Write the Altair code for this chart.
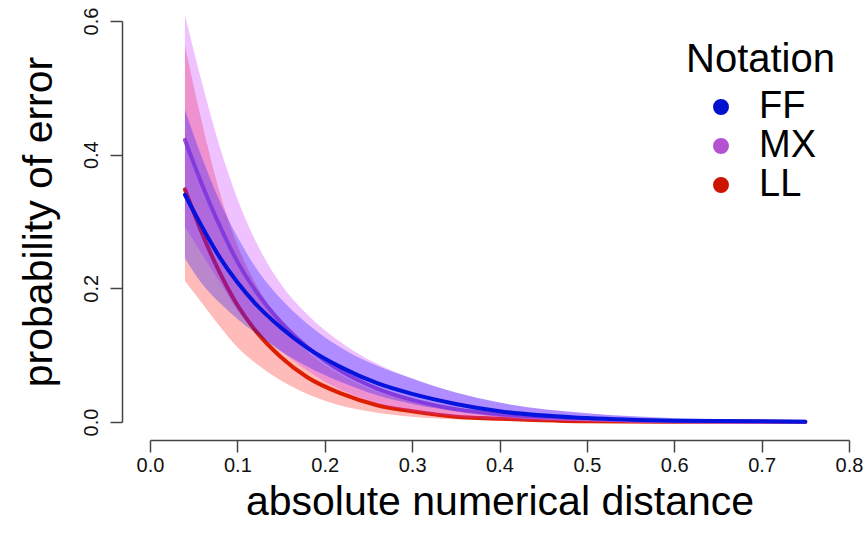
import altair as alt
import pandas as pd

# distances at which the fitted curves were read
xs = [0.04, 0.06, 0.08, 0.10, 0.12, 0.15, 0.18, 0.22, 0.26, 0.30, 0.35, 0.40, 0.50, 0.60, 0.75]

series_names = ["FF", "MX", "LL"]

ff_mean = [0.340, 0.291, 0.246, 0.209, 0.178, 0.141, 0.111, 0.081, 0.058, 0.042, 0.027, 0.016, 0.006, 0.002, 0.0005]
ff_lo = [0.245, 0.206, 0.178, 0.154, 0.134, 0.106, 0.083, 0.059, 0.040, 0.027, 0.016, 0.009, 0.003, 0.001, 0.0001]
ff_hi = [0.467, 0.394, 0.330, 0.277, 0.233, 0.184, 0.147, 0.110, 0.084, 0.065, 0.044, 0.029, 0.013, 0.006, 0.002]

mx_mean = [0.422, 0.354, 0.293, 0.240, 0.198, 0.149, 0.112, 0.075, 0.050, 0.033, 0.019, 0.011, 0.004, 0.001, 0.0002]
mx_lo = [0.292, 0.250, 0.209, 0.167, 0.139, 0.106, 0.077, 0.047, 0.028, 0.016, 0.008, 0.004, 0.001, 0.0003, 0.0]
mx_hi = [0.609, 0.505, 0.411, 0.334, 0.273, 0.206, 0.161, 0.118, 0.087, 0.065, 0.044, 0.029, 0.013, 0.005, 0.001]

ll_mean = [0.348, 0.281, 0.223, 0.175, 0.138, 0.097, 0.067, 0.042, 0.025, 0.016, 0.008, 0.005, 0.001, 0.0004, 0.0001]
ll_lo = [0.211, 0.177, 0.143, 0.112, 0.089, 0.062, 0.042, 0.024, 0.014, 0.008, 0.004, 0.002, 0.0004, 0.0001, 0.0]
ll_hi = [0.563, 0.445, 0.343, 0.265, 0.209, 0.148, 0.106, 0.070, 0.046, 0.031, 0.019, 0.011, 0.004, 0.0014, 0.0003]

x_ticks = [0.0, 0.1, 0.2, 0.3, 0.4, 0.5, 0.6, 0.7, 0.8]
y_ticks = [0.0, 0.2, 0.4, 0.6]

legend_colors = ["#0010CC", "#B452D2", "#CC1400"]

rows = []
for name, m, lo, hi in [("FF", ff_mean, ff_lo, ff_hi),
                        ("MX", mx_mean, mx_lo, mx_hi),
                        ("LL", ll_mean, ll_lo, ll_hi)]:
    for i, x in enumerate(xs):
        rows.append({"x": x, "series": name, "mean": m[i], "lo": lo[i], "hi": hi[i]})
df = pd.DataFrame(rows)

FONT = "Liberation Sans"
AX = "#444444"

x_axis = alt.Axis(values=x_ticks, format=".1f", offset=18, tickSize=12, tickWidth=1.5,
                  tickColor=AX, domainColor=AX, domainWidth=1.5, grid=False,
                  labelFontSize=20, labelFont=FONT, labelColor="#111111", labelPadding=3,
                  labelFlush=False, titleFontSize=41, titleFont=FONT, titleFontWeight="normal",
                  titleColor="#000000", titleBaseline="alphabetic", titleY=74)
y_axis = alt.Axis(values=y_ticks, format=".1f", offset=28, tickSize=12, tickWidth=1.5,
                  tickColor=AX, domainColor=AX, domainWidth=1.5, grid=False,
                  labelFontSize=20, labelFont=FONT, labelColor="#111111", labelAngle=270,
                  labelAlign="center", labelBaseline="alphabetic", labelPadding=13,
                  titleFontSize=41, titleFont=FONT, titleFontWeight="normal",
                  titleColor="#000000", titleAngle=270, titleBaseline="alphabetic",
                  titleAlign="center", titleX=-71)

xs_scale = alt.Scale(domain=[0, 0.8], nice=False, zero=False)
ys_scale = alt.Scale(domain=[0, 0.6], nice=False, zero=False)

X = alt.X("x:Q", scale=xs_scale, axis=x_axis, title="absolute numerical distance")
Ymean = alt.Y("mean:Q", scale=ys_scale, axis=y_axis, title="probability of error")
Ylo = alt.Y("lo:Q", scale=ys_scale, axis=y_axis, title="probability of error")

base = alt.Chart(df)


def band(s, color, op):
    return base.transform_filter(alt.datum.series == s).mark_area(
        color=color, opacity=op, interpolate="monotone").encode(x=X, y=Ylo, y2="hi:Q")


def line(s, color):
    return base.transform_filter(alt.datum.series == s).mark_line(
        color=color, strokeWidth=4, interpolate="monotone", strokeCap="round").encode(x=X, y=Ymean)


legend_layer = base.mark_point(filled=True, size=0).encode(
    x=X, y=Ymean,
    color=alt.Color("series:N", sort=series_names,
                    scale=alt.Scale(domain=series_names, range=legend_colors),
                    legend=alt.Legend(title="Notation", orient="none", legendX=536, legendY=19,
                                      titleFontSize=40, titleFont=FONT, titleFontWeight="normal",
                                      titleColor="#000000", labelFontSize=38, labelFont=FONT,
                                      labelColor="#000000", symbolType="circle", symbolSize=254,
                                      symbolOffset=16, labelOffset=19, titlePadding=8,
                                      rowPadding=1, padding=0, symbolStrokeWidth=0,
                                      symbolOpacity=1, labelLimit=300)))

chart = alt.layer(
    band("LL", "#FF0000", 0.27),
    line("LL", "#DD1E00"),
    band("MX", "#CC33FF", 0.30),
    line("MX", "#B452D2"),
    band("FF", "#0000FF", 0.27),
    line("FF", "#0514DD"),
    legend_layer,
).properties(
    width=699, height=401,
    padding={"left": 150, "top": 21, "right": 19, "bottom": 117},
    autosize=alt.AutoSizeParams(type="none"),
).configure(font=FONT).configure_view(stroke=None)

chart.save("out.html", embed_options={"renderer": "svg", "actions": False})
